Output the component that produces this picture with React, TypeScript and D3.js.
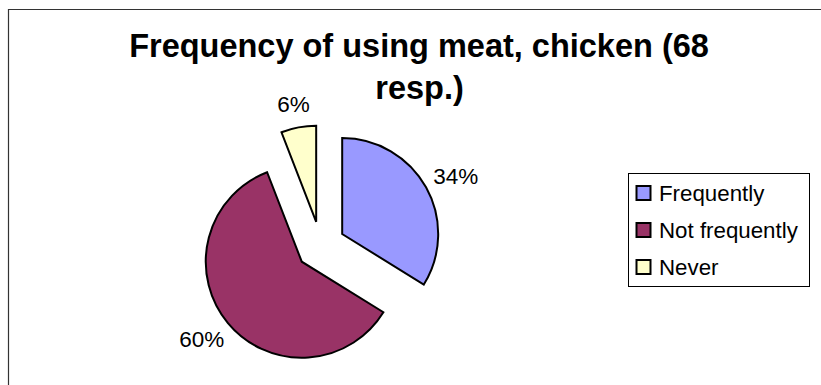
import React from "react";
import * as d3 from "d3";

const categories = ["Frequently", "Not frequently", "Never"];
const counts = [23, 41, 4];
const colors = ["#9999FF", "#993366", "#FFFFCC"];
const titleLines = ["Frequency of using meat, chicken (68", "resp.)"];

const W = 821;
const H = 385;
const FONT = "'Liberation Sans', Arial, sans-serif";

export default function App() {
  const cx = 320.7;
  const cy = 246;
  const r = 96;
  const explode = 24.6;
  const labelR0 = 135;
  const total = d3.sum(counts);
  const pie = d3.pie<number>().sort(null).startAngle(0).endAngle(2 * Math.PI);
  const arcs = pie(counts);
  const arc = d3.arc<d3.PieArcDatum<number>>().innerRadius(0).outerRadius(r);

  const legendX = 628;
  const legendY = 173;
  const legendW = 181;
  const legendH = 113;
  const legendScale = d3
    .scalePoint<string>()
    .domain(categories)
    .range([legendY + 20, legendY + 94]);

  return (
    <svg
      width={W}
      height={H}
      style={{ position: "absolute", left: 0, top: 0, background: "#fff" }}
    >
      <path d={`M8.5,${H} V9.5 H${W}`} fill="none" stroke="#333" strokeWidth={1.2} />
      <text
        x={419}
        y={57}
        textAnchor="middle"
        fontFamily={FONT}
        fontWeight="bold"
        fontSize={32.5}
        fill="#000"
      >
        {titleLines[0]}
      </text>
      <text
        x={419.5}
        y={99}
        textAnchor="middle"
        fontFamily={FONT}
        fontWeight="bold"
        fontSize={32.5}
        fill="#000"
      >
        {titleLines[1]}
      </text>
      {arcs.map((a, i) => {
        const mid = (a.startAngle + a.endAngle) / 2;
        const s = Math.sin(mid);
        const c = Math.cos(mid);
        const ox = cx + explode * s;
        const oy = cy - explode * c;
        const label = `${Math.round((counts[i] / total) * 100)}%`;
        const hw = label.length * 6.5;
        const hh = 10;
        const lx = cx + labelR0 * s + hw * s;
        const ly = cy - labelR0 * c - hh * c;
        return (
          <g key={categories[i]}>
            <path
              d={arc(a) || ""}
              transform={`translate(${ox},${oy})`}
              fill={colors[i]}
              stroke="#000"
              strokeWidth={2}
              strokeLinejoin="miter"
            />
            <text
              x={lx}
              y={ly}
              dy="0.36em"
              textAnchor="middle"
              fontFamily={FONT}
              fontSize={22.5}
              fill="#000"
            >
              {label}
            </text>
          </g>
        );
      })}
      <rect
        x={legendX + 0.5}
        y={legendY + 0.5}
        width={legendW}
        height={legendH}
        fill="#fff"
        stroke="#000"
        strokeWidth={1}
      />
      {categories.map((c, i) => {
        const y = legendScale(c) as number;
        return (
          <g key={c}>
            <rect
              x={legendX + 8.5}
              y={y - 7}
              width={14}
              height={14}
              fill={colors[i]}
              stroke="#000"
              strokeWidth={2}
            />
            <text
              x={legendX + 31}
              y={y}
              dy="0.36em"
              fontFamily={FONT}
              fontSize={22.3}
              fill="#000"
            >
              {c}
            </text>
          </g>
        );
      })}
    </svg>
  );
}
